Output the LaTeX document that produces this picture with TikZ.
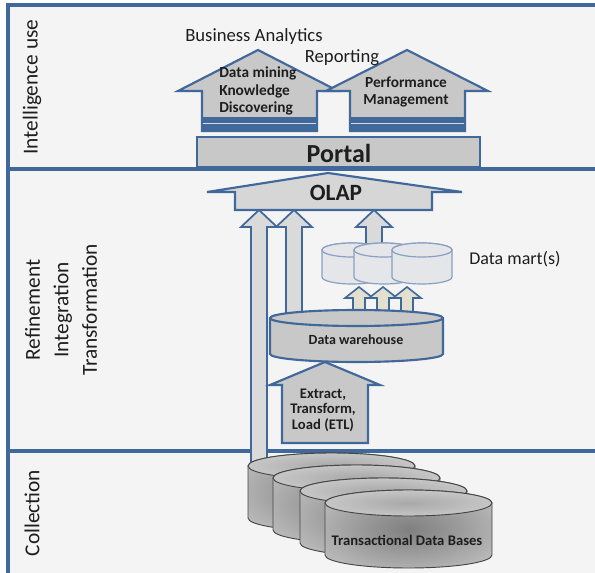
\documentclass[tikz,border=0pt]{standalone}
\usepackage{fontspec}
\setmainfont{Carlito}
\usepackage{xcolor}

\definecolor{frameblue}{RGB}{65,104,155}
\definecolor{panelfill}{RGB}{244,244,244}
\definecolor{blockgray}{RGB}{200,200,200}
\definecolor{olapgray}{RGB}{214,214,214}
\definecolor{risergray}{RGB}{218,218,218}
\definecolor{martfill}{RGB}{228,230,234}
\definecolor{martedge}{RGB}{138,160,192}
\definecolor{smallbeige}{RGB}{228,224,206}
\definecolor{dbedge}{RGB}{70,70,70}
\definecolor{inktext}{RGB}{30,30,30}
\definecolor{stripe}{RGB}{215,220,228}

% soft grey glow for the transactional data bases
\pgfdeclareradialshading{dbbody}{\pgfpointorigin}{%
  rgb(0bp)=(0.50,0.50,0.50);
  rgb(14bp)=(0.60,0.60,0.60);
  rgb(32bp)=(0.74,0.74,0.74);
  rgb(50bp)=(0.77,0.77,0.77)}
\pgfdeclareradialshading{dbtop}{\pgfpointorigin}{%
  rgb(0bp)=(0.66,0.66,0.66);
  rgb(30bp)=(0.80,0.80,0.80);
  rgb(50bp)=(0.83,0.83,0.83)}

\begin{document}
\begin{tikzpicture}[x=0.75pt,y=0.75pt,yscale=-1,xscale=1,
  panelline/.style={draw=frameblue,line width=2.4pt},
  block/.style={draw=frameblue,line width=1.6pt,fill=blockgray,line join=miter},
  riser/.style={block,line width=1.3pt,fill=risergray},
  smallup/.style={block,line width=1.2pt,fill=smallbeige},
  mart/.style={draw=martedge,line width=0.9pt,fill=martfill},
  tdb/.style={draw=dbedge,line width=0.7pt,shading=dbbody},
  tdbtop/.style={draw=dbedge,line width=0.7pt,shading=dbtop},
  sidelbl/.style={font=\fontsize{16}{21.4}\selectfont,rotate=90,align=center,inner sep=0pt,text=inktext},
  toplbl/.style={font=\fontsize{14}{16}\selectfont,inner sep=0pt,text=inktext},
  innertxt/.style={font=\fontsize{11.5}{13.1}\selectfont\bfseries,inner sep=0pt,text=inktext},
  bigtxt/.style={font=\fontsize{19.5}{21}\selectfont\bfseries,inner sep=0pt,text=inktext},
  ]
\useasboundingbox (0,0) rectangle (595,573);

% panels
\fill[panelfill] (8,5) rectangle (595,573);
\draw[panelline] (595,5) -- (8,5) -- (8,573);
\draw[panelline] (8,169) -- (595,169);
\draw[panelline] (8,451) -- (595,451);

%Shape: Data mining arrow
\draw[block] (258,50) -- (338,91) -- (317,91) -- (317,131) -- (202,131) -- (202,91) -- (178,91) -- cycle;
\fill[frameblue] (202,117) rectangle (317,131);
\draw[stripe,line width=1.2pt] (203,123.5) -- (316,123.5);
%Shape: Performance arrow
\draw[block] (407,50) -- (488,91) -- (465,91) -- (465,131) -- (350,131) -- (350,91) -- (326,91) -- cycle;
\fill[frameblue] (350,117) rectangle (465,131);
\draw[stripe,line width=1.2pt] (351,123.5) -- (464,123.5);
%Shape: Portal bar
\draw[block,line width=1.5pt] (197,137) rectangle (480,167);

%Shape: risers up to OLAP
\draw[riser] (259,210) -- (277,227) -- (267,227) -- (267,462) -- (251,462) -- (251,227) -- (241,227) -- cycle;
\draw[riser] (294,210) -- (312,227) -- (302,227) -- (302,314) -- (286,314) -- (286,227) -- (276,227) -- cycle;
\draw[riser] (374,210) -- (392,227) -- (382,227) -- (382,252) -- (366,252) -- (366,227) -- (356,227) -- cycle;
%Shape: OLAP
\draw[block,fill=olapgray] (328,173) -- (462,192) -- (432,192) -- (432,210) -- (235,210) -- (235,192) -- (207,192) -- cycle;

%Shape: data marts
\foreach \cx in {352,384,422}{
  \draw[mart] (\cx-30,250) -- (\cx-30,277) arc[start angle=180,end angle=0,x radius=30,y radius=7]
    -- (\cx+30,250) arc[start angle=0,end angle=-180,x radius=30,y radius=7] -- cycle;
  \draw[mart] (\cx,250) ellipse [x radius=30,y radius=7];
}
%Shape: small arrows warehouse -> marts
\foreach \cx in {359,383,407}{
  \draw[smallup] (\cx,287) -- (\cx+14,298) -- (\cx+6,298) -- (\cx+6,312) -- (\cx-6,312) -- (\cx-6,298) -- (\cx-14,298) -- cycle;
}
%Shape: Data warehouse
\draw[block] (270,318) -- (270,354) arc[start angle=180,end angle=0,x radius=86.5,y radius=8]
  -- (443,318) arc[start angle=0,end angle=-180,x radius=86.5,y radius=8] -- cycle;
\draw[block,fill=none] (270,318) arc[start angle=180,end angle=0,x radius=86.5,y radius=8];
%Shape: ETL
\draw[block] (325,362) -- (380,385) -- (368,385) -- (368,443) -- (282,443) -- (282,385) -- (270,385) -- cycle;

%Shape: transactional data bases
\foreach \lx/\ty in {248/466,273/478,300/491,325/503}{
  \shadedraw[tdb] (\lx,\ty) -- (\lx,\ty+52) arc[start angle=180,end angle=0,x radius=83.5,y radius=13]
    -- (\lx+167,\ty) arc[start angle=0,end angle=-180,x radius=83.5,y radius=13] -- cycle;
  \shadedraw[tdbtop] (\lx+83.5,\ty) ellipse [x radius=83.5,y radius=13];
}

% Text Node
\node[sidelbl] (use) at (32,87) {Intelligence use};
\node[sidelbl] (refine) at (61,310) {Refinement\\Integration\\Transformation};
\node[sidelbl] (collect) at (32,513) {Collection};
\node[toplbl] (analytics) at (254,37) {Business Analytics};
\node[toplbl] (reporting) at (342,58) {Reporting};
\node[innertxt,align=left,anchor=west] (mining) at (219,91) {Data mining\\Knowledge\\Discovering};
\node[innertxt,align=center] (perf) at (406,92) {Performance\\Management};
\node[bigtxt] (portal) at (339,153) {Portal};
\node[bigtxt,font=\fontsize{17.5}{20}\selectfont\bfseries] (olap) at (336,193) {OLAP};
\node[toplbl,font=\fontsize{13.5}{16}\selectfont] (marts) at (515,259) {Data mart(s)};
\node[innertxt,font=\fontsize{10.5}{12}\selectfont\bfseries] (dw) at (356,340) {Data warehouse};
\node[innertxt,align=center,font=\fontsize{11}{11.6}\selectfont\bfseries] (etl) at (323,410) {Extract,\\Transform,\\Load (ETL)};
\node[innertxt,font=\fontsize{11}{13}\selectfont\bfseries] (tdb) at (407,540) {Transactional Data Bases};

\end{tikzpicture}
\end{document}
